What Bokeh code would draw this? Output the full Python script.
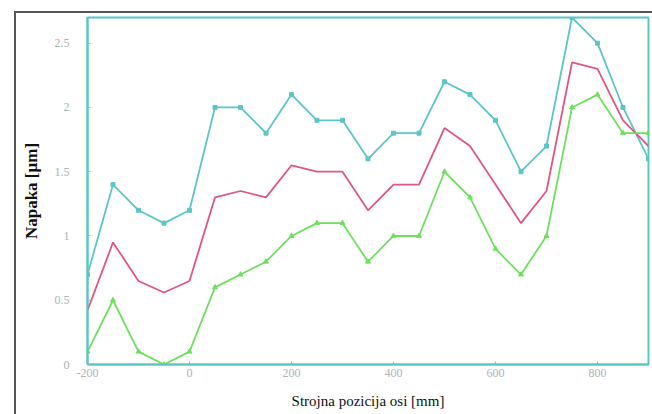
from bokeh.plotting import figure
from bokeh.models import FixedTicker, Range1d
from bokeh.embed import file_html
from bokeh.resources import INLINE

# data
positions = [-200, -150, -100, -50, 0, 50, 100, 150, 200, 250, 300, 350,
             400, 450, 500, 550, 600, 650, 700, 750, 800, 850, 900]
cyan_vals = [0.7, 1.4, 1.2, 1.1, 1.2, 2.0, 2.0, 1.8, 2.1, 1.9, 1.9, 1.6,
             1.8, 1.8, 2.2, 2.1, 1.9, 1.5, 1.7, 2.7, 2.5, 2.0, 1.6]
pink_vals = [0.42, 0.95, 0.65, 0.56, 0.65, 1.3, 1.35, 1.3, 1.55, 1.5, 1.5, 1.2,
             1.4, 1.4, 1.84, 1.7, 1.4, 1.1, 1.35, 2.35, 2.3, 1.9, 1.7]
green_vals = [0.1, 0.5, 0.1, 0.0, 0.1, 0.6, 0.7, 0.8, 1.0, 1.1, 1.1, 0.8,
              1.0, 1.0, 1.5, 1.3, 0.9, 0.7, 1.0, 2.0, 2.1, 1.8, 1.8]
x_ticks = [-200, 0, 200, 400, 600, 800]
x_tick_labels = ["-200", "0", "200", "400", "600", "800"]
y_ticks = [0, 0.5, 1, 1.5, 2, 2.5]
y_tick_labels = ["0", "0.5", "1", "1.5", "2", "2.5"]

CYAN = "#5cc6c6"
PINK = "#e05585"
GREEN = "#6ee05e"

p = figure(width=636, height=401, output_backend="svg", toolbar_location=None,
           x_range=Range1d(-200, 900), y_range=Range1d(0, 2.7),
           min_border_left=71, min_border_right=4, min_border_top=4, min_border_bottom=50)
p.margin = (13, 0, 0, 16)
p.styles = {"outline": "2px solid #555555"}

p.grid.visible = False
p.outline_line_color = CYAN
p.outline_line_width = 2
p.background_fill_color = "white"
p.border_fill_color = "white"

p.line(positions, cyan_vals, line_color=CYAN, line_width=1.8)
p.scatter(positions, cyan_vals, marker="square", size=4, color=CYAN)
p.line(positions, pink_vals, line_color=PINK, line_width=1.8)
p.line(positions, green_vals, line_color=GREEN, line_width=1.8)
p.scatter(positions, green_vals, marker="triangle", size=5, color=GREEN)

p.xaxis.ticker = FixedTicker(ticks=x_ticks)
p.xaxis.major_label_overrides = {t: l for t, l in zip(x_ticks, x_tick_labels)}
p.yaxis.ticker = FixedTicker(ticks=y_ticks)
p.yaxis.major_label_overrides = {t: l for t, l in zip(y_ticks, y_tick_labels)}

for ax in (p.xaxis, p.yaxis):
    ax.axis_line_color = CYAN
    ax.axis_line_width = 2
    ax.major_tick_line_color = "#8fb8b8"
    ax.major_tick_in = 3
    ax.major_tick_out = 0
    ax.minor_tick_line_color = None
    ax.major_label_text_color = "#a9b4b4"
    ax.major_label_text_font = "Liberation Serif"
    ax.major_label_text_font_size = "12px"
    ax.axis_label_text_font = "Liberation Serif"
    ax.axis_label_text_color = "#111111"

p.xaxis.axis_label = "Strojna pozicija osi [mm]"
p.xaxis.axis_label_text_font_style = "normal"
p.xaxis.axis_label_text_font_size = "15px"
p.xaxis.major_label_standoff = 4
p.xaxis.axis_label_standoff = 13
p.yaxis.axis_label = "Napaka [µm]"
p.yaxis.axis_label_text_font_style = "bold"
p.yaxis.axis_label_text_font_size = "17px"
p.yaxis.major_label_standoff = 18
p.yaxis.axis_label_standoff = 11

open("out.html", "w").write(file_html(p, INLINE))
